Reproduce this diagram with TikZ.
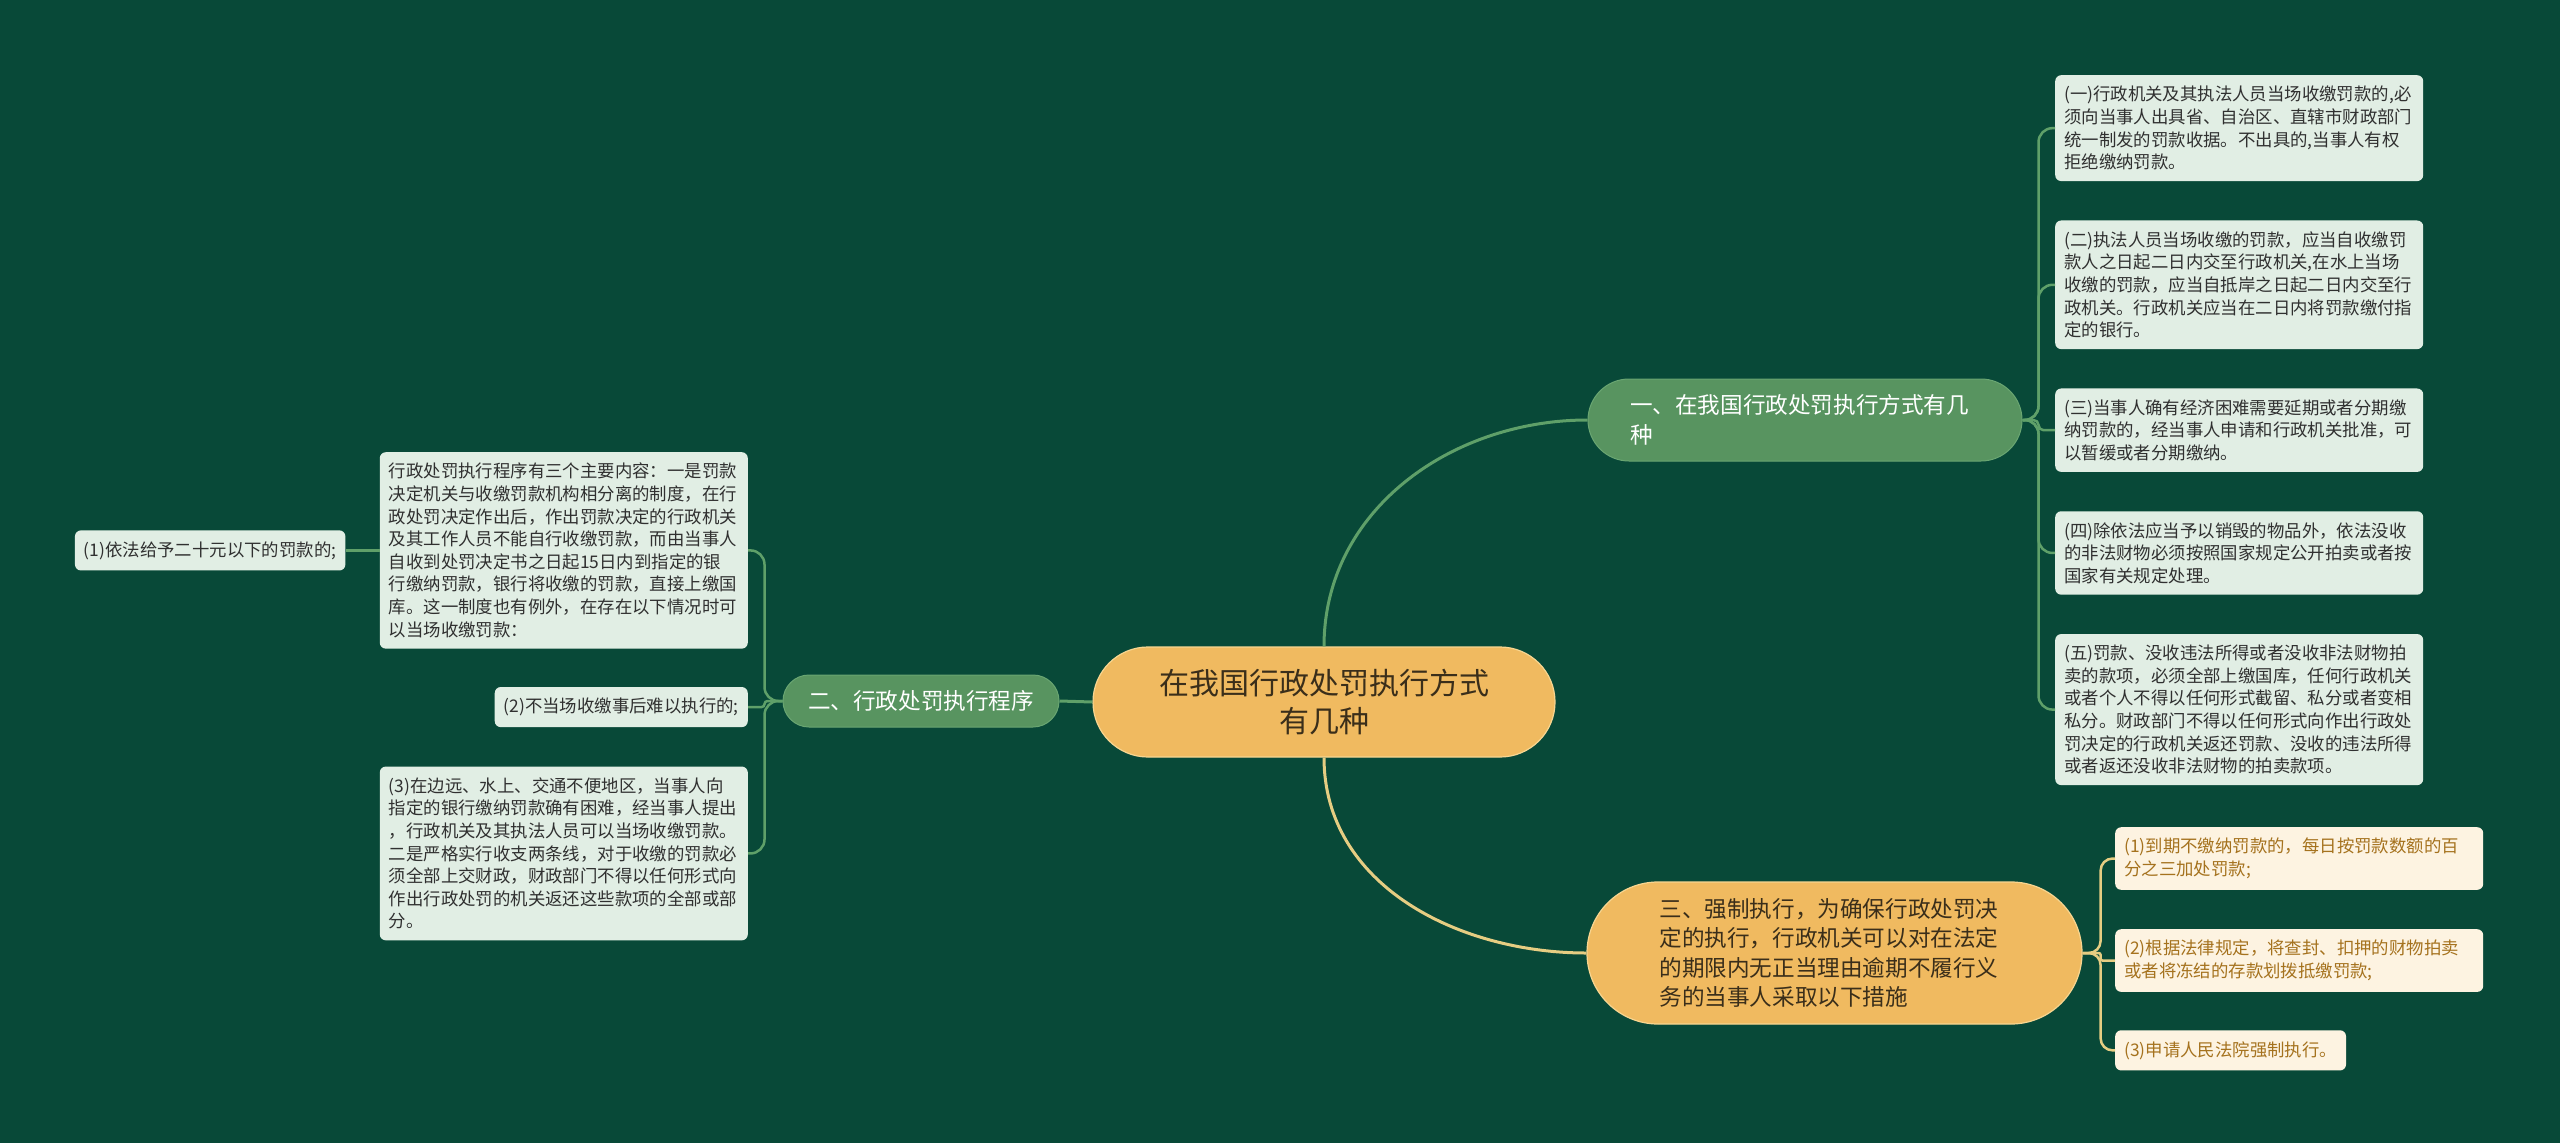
\documentclass[tikz,border=0pt]{standalone}
\usepackage{fontspec}
\setmainfont{Noto Sans CJK SC}
\usepackage{xcolor}
\usepackage{tikz}
\usetikzlibrary{positioning}

\definecolor{bgc}{HTML}{084938}
\definecolor{rootbg}{HTML}{F0BA60}
\definecolor{rootedge}{HTML}{F7D590}
\definecolor{roottxt}{HTML}{3A2E1A}
\definecolor{topicbg}{HTML}{589460}
\definecolor{topicedge}{HTML}{6AA672}
\definecolor{leafbg}{HTML}{E1EEE4}
\definecolor{leaftxt}{HTML}{303030}
\definecolor{creambg}{HTML}{FDF3E1}
\definecolor{creamtxt}{HTML}{A5721E}
\definecolor{glinec}{HTML}{5FA069}
\definecolor{ylinec}{HTML}{E6CD82}

\begin{document}
\begin{tikzpicture}[x=1pt, y=-1pt, font=\fontsize{17.4}{22.6}\selectfont,
    root/.style={fill=rootbg, draw=rootedge, line width=1.2pt, text=roottxt, align=center,
      rounded corners=55pt, minimum width=462pt, minimum height=110pt,
      font=\fontsize{30}{38}\selectfont},
    topic/.style={fill=topicbg, draw=topicedge, line width=1pt, text=white, align=left,
      font=\fontsize{22.6}{30}\selectfont},
    warm/.style={fill=rootbg, draw=rootedge, line width=1.2pt, text=roottxt, align=left,
      font=\fontsize{22.6}{29.3}\selectfont},
    gleaf/.style={fill=leafbg, text=leaftxt, rounded corners=6pt, align=left, inner xsep=9pt, inner ysep=11pt},
    yleaf/.style={fill=creambg, text=creamtxt, rounded corners=6pt, align=left, inner xsep=9pt, inner ysep=11pt},
    wide/.style={text width=350pt},
    gline/.style={draw=glinec, line width=2.5pt},
    yline/.style={draw=ylinec, line width=2.5pt}]

  \fill[bgc] (0,0) rectangle (2560,1143);

  % --- Centre ---
  \node[root] (root) at (1324,702) {在我国行政处罚执行方式\\有几种};

  % --- Branch one (right, top) ---
  \node[topic, text width=350pt, inner xsep=42pt, minimum height=82pt, rounded corners=41pt] (n1) at (1805,420)
    {一、在我国行政处罚执行方式有几\\种};
  \node[gleaf, wide, anchor=north west] (r1) at (2055,75)
    {(一)行政机关及其执法人员当场收缴罚款的,必\\须向当事人出具省、自治区、直辖市财政部门\\统一制发的罚款收据。不出具的,当事人有权\\拒绝缴纳罚款。};
  \node[gleaf, wide, below=39pt of r1] (r2)
    {(二)执法人员当场收缴的罚款，应当自收缴罚\\款人之日起二日内交至行政机关,在水上当场\\收缴的罚款，应当自抵岸之日起二日内交至行\\政机关。行政机关应当在二日内将罚款缴付指\\定的银行。};
  \node[gleaf, wide, below=39pt of r2] (r3)
    {(三)当事人确有经济困难需要延期或者分期缴\\纳罚款的，经当事人申请和行政机关批准，可\\以暂缓或者分期缴纳。};
  \node[gleaf, wide, below=39pt of r3] (r4)
    {(四)除依法应当予以销毁的物品外，依法没收\\的非法财物必须按照国家规定公开拍卖或者按\\国家有关规定处理。};
  \node[gleaf, wide, below=39pt of r4] (r5)
    {(五)罚款、没收违法所得或者没收非法财物拍\\卖的款项，必须全部上缴国库，任何行政机关\\或者个人不得以任何形式截留、私分或者变相\\私分。财政部门不得以任何形式向作出行政处\\罚决定的行政机关返还罚款、没收的违法所得\\或者返还没收非法财物的拍卖款项。};

  % --- Branch two (left) ---
  \node[topic, inner xsep=25pt, minimum height=52pt, rounded corners=26pt] (n2) at (921,701)
    {二、行政处罚执行程序};
  \node[gleaf, wide, anchor=north east] (la) at (748,452)
    {行政处罚执行程序有三个主要内容：一是罚款\\决定机关与收缴罚款机构相分离的制度，在行\\政处罚决定作出后，作出罚款决定的行政机关\\及其工作人员不能自行收缴罚款，而由当事人\\自收到处罚决定书之日起15日内到指定的银\\行缴纳罚款，银行将收缴的罚款，直接上缴国\\库。这一制度也有例外，在存在以下情况时可\\以当场收缴罚款：};
  \node[gleaf, left=34pt of la] (l1) {(1)依法给予二十元以下的罚款的;};
  \node[gleaf, below=38pt of la.south east, anchor=north east] (l2) {(2)不当场收缴事后难以执行的;};
  \node[gleaf, wide, below=39pt of l2.south east, anchor=north east] (l3)
    {(3)在边远、水上、交通不便地区，当事人向\\指定的银行缴纳罚款确有困难，经当事人提出\\，行政机关及其执法人员可以当场收缴罚款。\\二是严格实行收支两条线，对于收缴的罚款必\\须全部上交财政，财政部门不得以任何形式向\\作出行政处罚的机关返还这些款项的全部或部\\分。};

  % --- Branch three (right, bottom) ---
  \node[warm, text width=350pt, inner xsep=72.5pt, minimum height=142pt, rounded corners=71pt] (n3) at (1834.5,953)
    {三、强制执行，为确保行政处罚决\\定的执行，行政机关可以对在法定\\的期限内无正当理由逾期不履行义\\务的当事人采取以下措施};
  \node[yleaf, wide, anchor=north west] (c1) at (2115,827)
    {(1)到期不缴纳罚款的，每日按罚款数额的百\\分之三加处罚款;};
  \node[yleaf, wide, below=39pt of c1] (c2)
    {(2)根据法律规定，将查封、扣押的财物拍卖\\或者将冻结的存款划拨抵缴罚款;};
  \node[yleaf, below=38pt of c2.south west, anchor=north west] (c3) {(3)申请人民法院强制执行。};

  % --- Connectors ---
  \draw[gline, line width=3pt] (root.north) to[out=90, in=180] (n1.west);
  \draw[yline, line width=3pt] (root.south) to[out=-90, in=180] (n3.west);
  \draw[gline, line width=3pt] (root.west) -- (n2.east);

  \foreach \leaf/\rad in {r1/14pt, r2/14pt, r3/5pt, r4/14pt, r5/14pt}
    \draw[gline, rounded corners=\rad] (n1.east) -- ++(16pt,0) |- (\leaf.west);
  \foreach \leaf/\rad in {la/14pt, l2/3pt, l3/14pt}
    \draw[gline, rounded corners=\rad] (n2.west) -- ++(-18pt,0) |- (\leaf.east);
  \draw[gline] (la.west) -- (l1.east);
  \foreach \leaf/\rad in {c1/12pt, c2/2pt, c3/12pt}
    \draw[yline, rounded corners=\rad] (n3.east) -- ++(18pt,0) |- (\leaf.west);
\end{tikzpicture}
\end{document}
